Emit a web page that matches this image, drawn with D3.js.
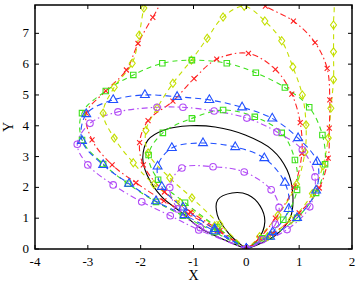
<!DOCTYPE html>
<html><head><meta charset="utf-8">
<script src="https://cdn.jsdelivr.net/npm/d3@7"></script>
<style>body{margin:0;background:#fff}svg{display:block}</style>
</head><body><svg id="c" width="359" height="287"></svg>
<script>
// ---- data ----
const xTicks = [-4,-3,-2,-1,0,1,2];
const yTicks = [0,1,2,3,4,5,6,7];
const xDomain = [-4, 2];
const yDomain = [0, 7.92];

const blackSmall = [[0,0],[-0.33,0.5],[-0.55,1.11],[-0.54,1.6],[-0.27,1.82],[0.03,1.76],[0.26,1.4],[0.35,0.88],[0.22,0.3],[0,0]];
const blackBig = [[0,0],[-0.88,0.69],[-1.22,1.18],[-1.6,1.69],[-1.88,2.41],[-1.96,2.96],[-1.86,3.54],[-1.54,3.87],[-1.07,4.0],[-0.59,3.96],[-0.02,3.7],[0.49,3.22],[0.77,2.57],[0.88,1.76],[0.83,1.01],[0.54,0.43],[0,0]];

const magentaInner = [[0,0],[-0.87,0.69],[-1.3,1.3],[-1.45,2.0],[-1.22,2.63],[-0.63,2.67],[-0.04,2.5],[0.47,1.92],[0.62,1.35],[0.55,0.8],[0.3,0.3],[0,0]];
const magentaOuter = [[0,0],[-0.9,0.62],[-1.44,1.08],[-1.98,1.53],[-2.52,2.08],[-3.0,2.73],[-3.2,3.4],[-2.96,4.08],[-2.43,4.45],[-1.69,4.6],[-1.2,4.6],[-0.61,4.48],[0.01,4.25],[0.58,3.8],[1.06,3.22],[1.3,2.34],[1.2,1.37],[0.77,0.63],[0,0]];

const blueInner = [[0,0],[-0.6,0.65],[-1.2,1.35],[-1.6,2.02],[-1.68,2.68],[-1.41,3.28],[-0.82,3.44],[-0.21,3.31],[0.34,2.95],[0.73,2.15],[0.8,1.3],[0.5,0.55],[0,0]];
const blueOuter = [[0,0],[-0.6,0.58],[-1.17,1.1],[-1.71,1.55],[-2.22,2.12],[-2.71,2.73],[-3.11,3.51],[-3.03,4.38],[-2.52,4.84],[-1.92,5.0],[-1.31,4.94],[-0.7,4.84],[-0.08,4.6],[0.49,4.24],[0.98,3.6],[1.34,2.83],[1.32,1.9],[0.96,1.01],[0.45,0.4],[0,0]];

const greenInner = [[0,0],[-0.55,0.7],[-1.16,1.5],[-1.67,2.25],[-1.85,3.05],[-1.58,3.77],[-1.03,4.24],[-0.44,4.51],[0.16,4.29],[0.67,3.77],[0.92,2.89],[0.96,1.92],[0.7,0.95],[0.3,0.35],[0,0]];
const greenOuter = [[0,0],[-0.6,0.55],[-1.2,1.08],[-1.71,1.53],[-2.24,2.12],[-2.71,2.76],[-3.11,3.54],[-3.11,4.41],[-2.66,5.13],[-2.14,5.65],[-1.59,6.03],[-1.03,6.13],[-0.37,6.03],[0.18,5.72],[0.73,5.24],[1.19,4.6],[1.44,3.7],[1.49,2.75],[1.32,1.82],[0.96,1.01],[0.45,0.4],[0,0]];

const redInner = [[0,0],[-0.5,0.6],[-1.05,1.2],[-1.55,1.85],[-1.95,2.73],[-2.02,3.45],[-1.86,4.17],[-1.39,4.8],[-0.99,5.53],[-0.56,6.16],[0.04,6.35],[0.55,5.83],[0.86,5.03],[1.02,4.1],[1.05,3.1],[0.9,2.0],[0.55,1.0],[0.25,0.35],[0,0]];
const redOuter = [[0,0],[-0.55,0.6],[-1.1,1.14],[-1.56,1.56],[-2.09,2.15],[-2.54,2.73],[-2.92,3.54],[-3.03,4.41],[-2.66,5.13],[-2.27,5.81],[-2.05,6.67],[-1.77,7.52],[-1.45,8.3],[-0.7,8.6],[0.0,8.3],[0.36,7.88],[0.89,7.4],[1.3,6.7],[1.53,5.86],[1.58,4.84],[1.57,3.92],[1.55,2.95],[1.38,1.98],[1.0,1.17],[0.5,0.5],[0,0]];

const yellowInner = [[0,0],[-0.5,0.8],[-1.03,1.66],[-1.45,2.31],[-1.86,3.12],[-1.9,3.85],[-1.69,4.57],[-1.39,5.38],[-1.04,6.13],[-0.74,6.84],[-0.44,7.53],[-0.04,7.88],[0.35,7.4],[0.67,6.76],[0.88,5.91],[1.06,5.0],[1.13,4.03],[1.11,3.15],[0.95,2.1],[0.6,1.1],[0.25,0.4],[0,0]];
const yellowOuter = [[0,0],[-0.6,0.75],[-1.25,1.5],[-1.75,2.1],[-2.14,2.8],[-2.5,3.6],[-2.71,4.41],[-2.5,5.25],[-2.16,6.03],[-2.03,6.94],[-1.94,7.82],[-1.8,8.7],[-0.5,9.6],[1.0,9.2],[1.62,8.2],[1.65,7.27],[1.65,6.4],[1.65,5.5],[1.6,4.57],[1.55,3.6],[1.45,2.7],[1.25,1.8],[0.85,0.95],[0.4,0.4],[0,0]];

// ---- styles ----
const series = [
  {pts: blackSmall, color:"#000", dash:null, marker:null},
  {pts: blackBig, color:"#000", dash:null, marker:null},
  {pts: yellowOuter, color:"#c4df00", dash:"5,4", marker:"diamond"},
  {pts: yellowInner, color:"#c4df00", dash:"5,4", marker:"diamond"},
  {pts: redOuter, color:"#ff2222", dash:"6,3,1.5,3", marker:"x"},
  {pts: redInner, color:"#ff2222", dash:"6,3,1.5,3", marker:"x"},
  {pts: greenOuter, color:"#3fe11d", dash:"5,4", marker:"square"},
  {pts: greenInner, color:"#3fe11d", dash:"5,4", marker:"square"},
  {pts: blueOuter, color:"#2150ff", dash:"6,4", marker:"triangle"},
  {pts: blueInner, color:"#2150ff", dash:"6,4", marker:"triangle"},
  {pts: magentaOuter, color:"#b24cf6", dash:"6,3,1.5,3", marker:"circle"},
  {pts: magentaInner, color:"#b24cf6", dash:"6,3,1.5,3", marker:"circle"}
];

const W = 359, H = 287;
const m = {l:35, r:7, t:5, b:38};
const svg = d3.select("#c");
const x = d3.scaleLinear().domain(xDomain).range([m.l, W - m.r]);
const y = d3.scaleLinear().domain(yDomain).range([H - m.b, m.t]);

svg.append("defs").append("clipPath").attr("id","clip")
  .append("rect").attr("x", m.l).attr("y", m.t).attr("width", W-m.l-m.r).attr("height", H-m.t-m.b);

const plot = svg.append("g").attr("clip-path","url(#clip)");
const line = d3.line().x(d=>x(d[0])).y(d=>y(d[1])).curve(d3.curveCatmullRom.alpha(0.5));

series.forEach(s=>{
  plot.append("path").attr("d", line(s.pts)).attr("fill","none")
    .attr("stroke", s.color).attr("stroke-width", 1.1)
    .attr("stroke-dasharray", s.dash);
});

const symMap = {
  circle: d3.symbol().type(d3.symbolCircle).size(34),
  square: d3.symbol().type(d3.symbolSquare).size(30),
  triangle: d3.symbol().type(d3.symbolTriangle).size(34)
};
series.forEach(s=>{
  if(!s.marker) return;
  const g = plot.append("g");
  s.pts.forEach(p=>{
    const px = x(p[0]), py = y(p[1]);
    let el;
    if (s.marker === "diamond") {
      el = g.append("path").attr("d", `M${px},${py-4}L${px+3},${py}L${px},${py+4}L${px-3},${py}Z`);
    } else if (s.marker === "x") {
      el = g.append("path").attr("d", `M${px-2.5},${py-2.5}L${px+2.5},${py+2.5}M${px-2.5},${py+2.5}L${px+2.5},${py-2.5}`);
    } else {
      el = g.append("path").attr("d", symMap[s.marker]()).attr("transform", `translate(${px},${py})`);
    }
    el.attr("fill","none").attr("stroke", s.color).attr("stroke-width", 1.1);
  });
});

// ---- axes (MATLAB-style box with inward ticks) ----
const font = "'Liberation Serif','Times New Roman',serif";
const ax = svg.append("g");
const tl = 4;
xTicks.forEach(t=>{
  const px = x(t);
  ax.append("line").attr("x1",px).attr("x2",px).attr("y1",y(yDomain[0])).attr("y2",y(yDomain[0])-tl).attr("stroke","#000");
  ax.append("line").attr("x1",px).attr("x2",px).attr("y1",y(yDomain[1])).attr("y2",y(yDomain[1])+tl).attr("stroke","#000");
  ax.append("text").attr("x",px).attr("y",y(yDomain[0])+17).attr("text-anchor","middle")
    .attr("font-family",font).attr("font-size",13).text(t);
});
yTicks.forEach(t=>{
  const py = y(t);
  ax.append("line").attr("x1",x(xDomain[0])).attr("x2",x(xDomain[0])+tl).attr("y1",py).attr("y2",py).attr("stroke","#000");
  ax.append("line").attr("x1",x(xDomain[1])).attr("x2",x(xDomain[1])-tl).attr("y1",py).attr("y2",py).attr("stroke","#000");
  ax.append("text").attr("x",x(xDomain[0])-6).attr("y",py+4).attr("text-anchor","end")
    .attr("font-family",font).attr("font-size",13).text(t);
});
ax.append("rect").attr("x",m.l).attr("y",m.t).attr("width",W-m.l-m.r).attr("height",H-m.t-m.b)
  .attr("fill","none").attr("stroke","#000").attr("stroke-width",1.5);
ax.append("text").attr("x",(m.l+W-m.r)/2).attr("y",H-7).attr("text-anchor","middle")
  .attr("font-family",font).attr("font-size",14).text("X");
ax.append("text").attr("transform",`translate(13,${(m.t+H-m.b)/2}) rotate(-90)`).attr("text-anchor","middle")
  .attr("font-family",font).attr("font-size",14).text("Y");
</script></body></html>
